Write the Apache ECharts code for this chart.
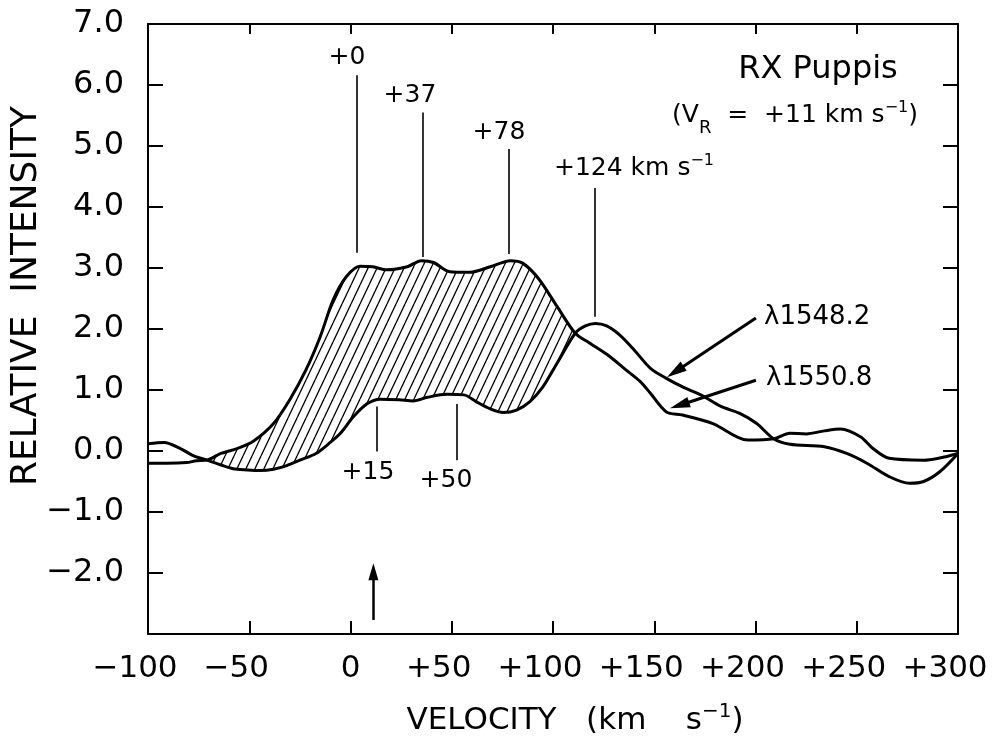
<!DOCTYPE html>
<html><head><meta charset="utf-8">
<script src="https://cdn.jsdelivr.net/npm/echarts@6/dist/echarts.min.js"></script>
<style>html,body{margin:0;padding:0;background:#fff}#c{width:992px;height:742px}</style>
</head><body><div id="c"></div>
<script>
// ---- data ----
// λ1550.8 profile
const velA = [-100, -91, -81, -76, -71, -64, -56, -48, -38, -30, -22, -15, -8.5, -2, 4.7, 11, 18, 28, 35, 41, 49, 59, 69, 79, 85, 93, 102, 111, 118, 128, 136, 143, 148, 156, 164, 179, 196, 209, 217, 225, 234, 242, 252, 258, 266, 283, 300];
const intA = [-0.20, -0.20, -0.19, -0.16, -0.15, -0.04, 0.04, 0.16, 0.45, 0.84, 1.33, 1.87, 2.48, 2.86, 3.03, 3.02, 2.97, 3.02, 3.12, 3.09, 2.94, 2.93, 3.02, 3.12, 3.08, 2.82, 2.37, 1.93, 1.77, 1.55, 1.33, 1.14, 0.95, 0.64, 0.59, 0.45, 0.18, 0.20, 0.29, 0.28, 0.33, 0.36, 0.23, 0.04, -0.12, -0.15, -0.04];
// λ1548.2 profile
const velB = [-100, -92, -84, -78, -71, -64, -58, -51, -45, -38, -31.5, -25, -17, -10, -5, 1.4, 8, 14.6, 24, 31, 38, 47.5, 56, 62, 69, 75.5, 82, 88.6, 95, 102, 111, 116, 121, 126.5, 133, 140, 148, 156, 164, 173, 183, 192, 200.6, 209, 217, 234, 245, 255, 266, 276, 283, 291, 300];
const intB = [0.12, 0.14, 0.04, -0.07, -0.15, -0.23, -0.29, -0.31, -0.32, -0.30, -0.24, -0.15, -0.04, 0.14, 0.29, 0.56, 0.77, 0.85, 0.84, 0.82, 0.88, 0.93, 0.92, 0.81, 0.69, 0.63, 0.67, 0.81, 1.05, 1.44, 1.93, 2.05, 2.09, 2.05, 1.90, 1.66, 1.36, 1.19, 1.05, 0.92, 0.73, 0.62, 0.45, 0.20, 0.11, 0.07, -0.04, -0.20, -0.42, -0.53, -0.50, -0.34, -0.04];
// hatched region between the two crossings
const hatchRange = [-71, 111];
// velocity marker lines (velocity, intensity from, intensity to)
const markVel  = [3, 35.6, 78.3, 120.4, 13.2, 52.4];
const markFrom = [3.25, 3.18, 3.23, 2.20, 0.73, 0.77];
const markTo   = [6.16, 5.55, 4.95, 4.31, -0.01, -0.15];
const markText = ['+0', '+37', '+78', '+124 km s{sup|−1}', '+15', '+50'];
// systemic velocity arrow
const sysVel = 11.3, sysFrom = -2.77, sysTo = -1.98;
// label arrows [fromVel, fromInt, toVel, toInt]
const lineLabels = ['λ1548.2', 'λ1550.8'];
const labelArrows = [[200.2, 2.18, 160.4, 1.30], [200.2, 1.16, 162.5, 0.75]];
// axes
const xTicks = [-100, -50, 0, 50, 100, 150, 200, 250, 300];
const yTicks = [-3, -2, -1, 0, 1, 2, 3, 4, 5, 6, 7];

const FONT = "'DejaVu Sans', 'Liberation Sans', Arial, sans-serif";
const chart = echarts.init(document.getElementById('c'));

function hatchCanvas() {
  const w = 9, h = 19;
  const c = document.createElement('canvas'); c.width = w; c.height = h;
  const ctx = c.getContext('2d');
  ctx.strokeStyle = '#000'; ctx.lineWidth = 1.3;
  for (const dx of [-w, 0, w]) { ctx.beginPath(); ctx.moveTo(dx, h); ctx.lineTo(dx + w, 0); ctx.stroke(); }
  return c;
}
const pat = hatchCanvas();

const minus = s => String(s).replace('-', '−');
const axisLine = { show: true, onZero: false, lineStyle: { color: '#000', width: 2 } };

function txt(x, y, text, size, align, extra, supSize) {
  const ss = supSize || 15;
  return Object.assign({
    type: 'text', x: x, y: y, silent: true,
    style: {
      text: text, fontSize: size, fontFamily: FONT, fill: '#000',
      align: align, verticalAlign: 'middle', textAlign: align, textVerticalAlign: 'middle',
      rich: {
        sup: { fontSize: ss, fontFamily: FONT, fill: '#000', padding: [0, 0, Math.round(ss * 0.95), 0] },
        sub: { fontSize: 18, fontFamily: FONT, fill: '#000', padding: [26, 0, 0, 0] }
      }
    }
  }, extra || {});
}

const markPairs = markVel.map((v, i) => [{ coord: [v, markFrom[i]] }, { coord: [v, markTo[i]] }]);
const arrowPairs = [[
  { coord: [sysVel, sysFrom], symbol: 'none', lineStyle: { width: 2.5, color: '#000' } },
  { coord: [sysVel, sysTo], symbol: 'triangle', symbolSize: [10, 17] }
]].concat(labelArrows.map(a => [
  { coord: [a[0], a[1]], symbol: 'none', lineStyle: { width: 3, color: '#000' } },
  { coord: [a[2], a[3]], symbol: 'triangle', symbolSize: [11, 20] }
]));

const option = {
  animation: false,
  backgroundColor: '#fff',
  grid: { left: 148, right: 34, top: 24, bottom: 108, containLabel: false, outerBoundsMode: 'none' },
  xAxis: [
    { type: 'value', min: xTicks[0], max: xTicks[xTicks.length - 1], interval: 50, position: 'bottom',
      axisLine: axisLine,
      axisTick: { show: true, inside: true, length: 13, lineStyle: { color: '#000', width: 2 } },
      axisLabel: { margin: 19, fontSize: 31, color: '#000', fontFamily: FONT,
        formatter: v => v === 0 ? '{n|0}' : '{s|' + (v > 0 ? '+' : '−') + Math.abs(v) + '}',
        rich: {
          n: { fontSize: 31, fontFamily: FONT, color: '#000' },
          s: { fontSize: 31, fontFamily: FONT, color: '#000', padding: [0, 26, 0, 0] }
        } },
      splitLine: { show: false } },
    { type: 'value', min: xTicks[0], max: xTicks[xTicks.length - 1], interval: 50, position: 'top',
      axisLine: axisLine,
      axisTick: { show: true, inside: true, length: 10, lineStyle: { color: '#000', width: 2 } },
      axisLabel: { show: false }, splitLine: { show: false } }
  ],
  yAxis: [
    { type: 'value', min: yTicks[0], max: yTicks[yTicks.length - 1], interval: 1, position: 'left',
      axisLine: axisLine,
      axisTick: { show: true, inside: true, length: 15, lineStyle: { color: '#000', width: 2 } },
      axisLabel: { margin: 24, fontSize: 32, color: '#000', fontFamily: FONT, showMinLabel: true, showMaxLabel: true,
        formatter: v => v === yTicks[0] ? '' : minus(v.toFixed(1)) },
      splitLine: { show: false } },
    { type: 'value', min: yTicks[0], max: yTicks[yTicks.length - 1], interval: 1, position: 'right',
      axisLine: axisLine,
      axisTick: { show: true, inside: true, length: 15, lineStyle: { color: '#000', width: 2 } },
      axisLabel: { show: false }, splitLine: { show: false } }
  ],
  series: [
    { type: 'custom', xAxisIndex: 0, yAxisIndex: 0, silent: true, z: 1,
      data: [[hatchRange[0], 0]],
      renderItem: function (params, api) {
        const pts = [];
        velA.forEach((v, i) => { if (v >= hatchRange[0] && v <= hatchRange[1]) pts.push(api.coord([v, intA[i]])); });
        for (let i = velB.length - 1; i >= 0; i--) {
          const v = velB[i];
          if (v >= hatchRange[0] && v <= hatchRange[1]) pts.push(api.coord([v, intB[i]]));
        }
        return { type: 'polygon', shape: { points: pts, smooth: 0.3 },
          style: { fill: { image: pat, repeat: 'repeat' }, stroke: null } };
      } },
    { type: 'line', name: lineLabels[1], xAxisIndex: 0, yAxisIndex: 0, z: 3,
      data: velA.map((v, i) => [v, intA[i]]), smooth: 0.3, symbol: 'none', showSymbol: false,
      lineStyle: { color: '#000', width: 3 }, silent: true,
      markLine: { silent: true, animation: false, symbol: ['none', 'none'], label: { show: false },
        emphasis: { disabled: true }, lineStyle: { color: '#000', width: 1.6, type: 'solid' },
        data: markPairs } },
    { type: 'line', name: lineLabels[0], xAxisIndex: 0, yAxisIndex: 0, z: 3,
      data: velB.map((v, i) => [v, intB[i]]), smooth: 0.3, symbol: 'none', showSymbol: false,
      lineStyle: { color: '#000', width: 3 }, silent: true,
      markLine: { silent: true, animation: false, symbol: ['none', 'triangle'], label: { show: false },
        emphasis: { disabled: true }, lineStyle: { color: '#000', width: 3, type: 'solid' },
        itemStyle: { color: '#000' },
        data: arrowPairs } }
  ],
  graphic: [
    txt(27, 296, 'RELATIVE  INTENSITY', 36, 'center', { rotation: Math.PI / 2 }),
    txt(575, 721, 'VELOCITY   (km    s{sup|−1})', 31, 'center', null, 20),
    txt(818, 70, 'RX Puppis', 32, 'center'),
    txt(795, 115, '(V{sub|R}  =  +11 km s{sup|−1})', 25, 'center', null, 16),
    txt(347, 57, markText[0], 25, 'center'),
    txt(410, 95, markText[1], 25, 'center'),
    txt(499, 132, markText[2], 25, 'center'),
    txt(634, 168, markText[3], 25, 'center', null, 16),
    txt(368, 472, markText[4], 25, 'center'),
    txt(446, 480, markText[5], 25, 'center'),
    txt(764, 317, lineLabels[0], 26, 'left'),
    txt(766, 378, lineLabels[1], 26, 'left')
  ]
};
chart.setOption(option);
</script>
</body></html>
